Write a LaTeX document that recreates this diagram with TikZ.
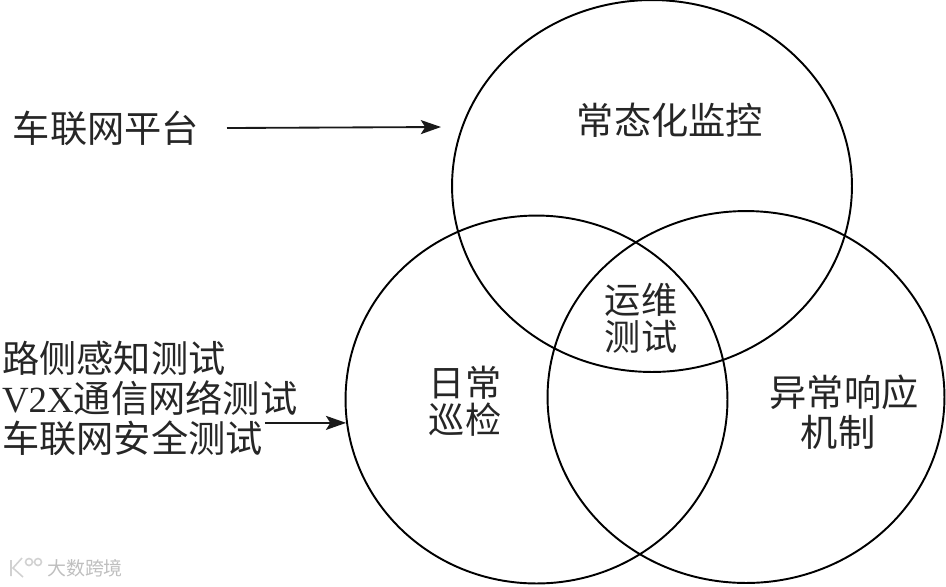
\documentclass[tikz,border=0pt]{standalone}
\usepackage{fontspec}
\setmainfont{Noto Sans CJK SC}
\newfontfamily\latinfont{Liberation Serif}
\usetikzlibrary{positioning,arrows.meta,shapes.geometric}
\tikzset{
    x=0.02cm,
    y=-0.02cm,
    venn/.style = {
        draw,
        shape=ellipse,
        inner sep=0pt,
        line width=1.1pt
    },
    caption/.style = {
        inner sep=0pt,
        align=center,
        text=black!85,
        font=\fontsize{21.2}{22.8}\selectfont
    },
    tightcaption/.style = {
        caption,
        font=\fontsize{20.6}{20.8}\selectfont
    },
    source/.style = {
        caption,
        anchor=west,
        inner xsep=1pt
    },
    feed/.style = {
        draw,
        ->,
        line width=1.05pt,
        black!90
    },
    stamp/.style = {
        inner sep=0pt,
        text=black!25,
        font=\fontsize{10.8}{11}\selectfont
    },
    >={Stealth[length=11.5pt,width=8pt,inset=2.5pt]},
}
\begin{document}
\begin{tikzpicture}
    \useasboundingbox (0,0) rectangle (946,586);

    \node[venn, minimum width=8cm, minimum height=7.44cm] (monitor) at (652,186) {};
    \node[venn, minimum width=7.64cm, minimum height=7.36cm] (patrol) at (536.5,399.5) {};
    \node[venn, minimum width=7.94cm, minimum height=7.44cm] (response) at (746,397) {};

    \node[caption] (monitortext) at (670,120) {常态化监控};
    \node[tightcaption] (optest) at (641,318) {运维\\测试};
    \node[tightcaption] (patroltext) at (465,401) {日常\\巡检};
    \node[caption] (responsetext) at (844,412) {异常响应\\机制\hspace*{0.24cm}};

    \node[caption] (platform) at (106,128) {车联网平台};
    \coordinate (platformend) at (441,127);

    \node[source] (roadtest) at (0,358) {路侧感知测试};
    \node[source] (v2xtest) at (0,398) {{\latinfont\fontsize{21}{21}\selectfont V2X}通信网络测试};
    \node[source] (sectest) at (0,438) {车联网安全测试};

    \path[feed] (platform.east -| 227,127) -- (platformend);
    \path[feed] (sectest.east |- patrol.187) -- (patrol.187);

    % faint stamp in the corner
    \node[stamp] (stamptext) at (85,568) {大数跨境};
    \draw[black!18, line width=0.9pt] (11,560) -- (11,576) (22,558) -- (13,568) -- (23,577);
    \draw[black!18, line width=0.9pt] (29,562) circle (3.5) (38,562) circle (3.5);
\end{tikzpicture}
\end{document}
